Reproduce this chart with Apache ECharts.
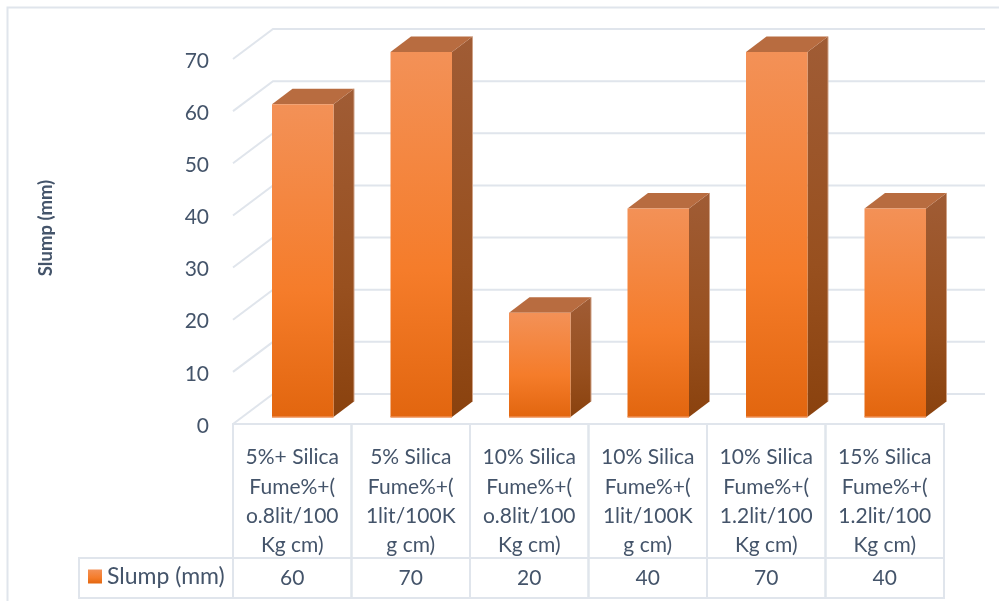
<!DOCTYPE html>
<html>
<head>
<meta charset="utf-8">
<style>html,body{margin:0;padding:0;background:#fff}#c{width:999px;height:601px}</style>
<script src="https://cdn.jsdelivr.net/npm/echarts@6/dist/echarts.min.js"></script>
</head>
<body>
<div id="c"></div>
<script>
const categories = [
  '5%+ Silica\nFume%+(\no.8lit/100\nKg cm)',
  '5% Silica\nFume%+(\n1lit/100K\ng cm)',
  '10% Silica\nFume%+(\no.8lit/100\nKg cm)',
  '10% Silica\nFume%+(\n1lit/100K\ng cm)',
  '10% Silica\nFume%+(\n1.2lit/100\nKg cm)',
  '15% Silica\nFume%+(\n1.2lit/100\nKg cm)'
];
const slump = [60, 70, 20, 40, 70, 40];
const yTicks = [0, 10, 20, 30, 40, 50, 60, 70];
const seriesName = 'Slump (mm)';

const FONT = 'Lato, "Open Sans", sans-serif';
const INK = '#44546A';
const RULE = '#E0E5EC';
// Oblique projection of the 3D box: the back wall sits this far up and right of the front edge.
const WALL_DX = 40, WALL_DY = 30;
const BAR_DX = 20.5, BAR_DY = 15.5;
const BAR_W = 61.5, BAR_SHIFT = 10.5, BAR_LIFT = 7;
const TABLE_BOTTOM = 598, ROW_H = 40, LEGEND_LEFT = 79, WALL_RIGHT = 985;

const frontFill = new echarts.graphic.LinearGradient(0, 0, 0, 1, [
  {offset: 0, color: '#F39157'}, {offset: 0.6, color: '#F57C2A'}, {offset: 1, color: '#E2660F'}
]);
const sideFill = new echarts.graphic.LinearGradient(0, 0, 0, 1, [
  {offset: 0, color: '#A05C35'}, {offset: 0.6, color: '#98501F'}, {offset: 1, color: '#8A420E'}
]);

function renderBar(params, api) {
  const x = api.coord([api.value(0), 0])[0] + BAR_SHIFT - BAR_W / 2;
  const y0 = api.coord([0, 0])[1] - BAR_LIFT;
  const y1 = api.coord([0, api.value(1)])[1] - BAR_LIFT;
  const r = x + BAR_W;
  return {
    type: 'group',
    children: [
      {type: 'polygon', shape: {points: [[r, y1], [r + BAR_DX, y1 - BAR_DY], [r + BAR_DX, y0 - BAR_DY], [r, y0]]},
        style: {fill: sideFill}},
      {type: 'polygon', shape: {points: [[x, y1], [x + BAR_DX, y1 - BAR_DY], [r + BAR_DX, y1 - BAR_DY], [r, y1]]},
        style: {fill: '#B86C40'}},
      {type: 'rect', shape: {x: x, y: y1, width: BAR_W, height: y0 - y1}, style: {fill: frontFill}},
      {type: 'line', shape: {x1: x, y1: y0, x2: r, y2: y0}, style: {stroke: '#EE8F55', lineWidth: 1.5}},
      {type: 'line', shape: {x1: r + BAR_DX, y1: y1 - BAR_DY, x2: r + BAR_DX, y2: y0 - BAR_DY},
        style: {stroke: '#CFA287', lineWidth: 1}}
    ]
  };
}

// Gridlines run across the floor edge of the side wall and then along the back wall.
function renderWall(params, api) {
  const rect = params.coordSys;
  const y = api.coord([0, api.value(0)])[1];
  const left = rect.x;
  return {
    type: 'polyline',
    shape: {points: [[left, y], [left + WALL_DX, y - WALL_DY], [WALL_RIGHT, y - WALL_DY]]},
    style: {fill: 'none', stroke: RULE, lineWidth: 2}
  };
}

// One column of the data table under the chart: the category cell and the value cell.
function renderCell(params, api) {
  const rect = params.coordSys;
  const w = rect.width / categories.length;
  const x = rect.x + api.value(0) * w;
  const top = rect.y + rect.height;
  return {
    type: 'group',
    children: [
      {type: 'rect', shape: {x: x, y: top, width: w, height: TABLE_BOTTOM - top},
        style: {fill: 'none', stroke: RULE, lineWidth: 2}},
      {type: 'line', shape: {x1: x, y1: TABLE_BOTTOM - ROW_H, x2: x + w, y2: TABLE_BOTTOM - ROW_H},
        style: {stroke: RULE, lineWidth: 2}},
      {type: 'text', style: {x: x + w / 2, y: TABLE_BOTTOM - ROW_H / 2, text: String(api.value(1)),
        fill: INK, font: '21px ' + FONT, align: 'center', verticalAlign: 'middle'}}
    ]
  };
}

const chart = echarts.init(document.getElementById('c'), null, {renderer: 'canvas'});
chart.setOption({
  animation: false,
  backgroundColor: '#fff',
  grid: {left: 233, right: 55, top: 59, height: 365, outerBoundsMode: 'none'},
  legend: {
    left: 83, top: 560, itemWidth: 14, itemHeight: 14, itemGap: 0, icon: 'rect',
    data: [{name: seriesName, itemStyle: {color: frontFill}}],
    textStyle: {color: INK, fontFamily: FONT, fontSize: 23, padding: [0, 0, 0, 0]}
  },
  xAxis: {
    type: 'category', data: categories, boundaryGap: true,
    axisLine: {show: false}, axisTick: {show: false}, splitLine: {show: false},
    axisLabel: {interval: 0, margin: 19, color: INK, fontFamily: FONT, fontSize: 21, lineHeight: 29.3,
      align: 'center', verticalAlign: 'top'}
  },
  yAxis: {
    type: 'value', min: 0, max: 70, interval: 10,
    name: seriesName, nameLocation: 'middle', nameGap: 177, nameRotate: 90,
    nameTextStyle: {color: INK, fontFamily: FONT, fontSize: 18.5, fontWeight: 'bold', padding: [0, 0, 0, 27]},
    axisLine: {show: false}, axisTick: {show: false}, splitLine: {show: false},
    axisLabel: {margin: 24, color: INK, fontFamily: FONT, fontSize: 21, formatter: '{t|{value}}',
      rich: {t: {color: INK, fontFamily: FONT, fontSize: 21, padding: [4, 0, 0, 0]}}}
  },
  series: [
    {type: 'custom', name: 'walls', silent: true, z: 1, encode: {x: -1, y: 0},
      data: yTicks.map(v => [v]), renderItem: renderWall},
    {type: 'custom', name: 'table', silent: true, z: 1, encode: {x: -1, y: -1},
      data: slump.map((v, i) => [i, v]), renderItem: renderCell},
    {type: 'custom', name: seriesName, z: 3, encode: {x: 0, y: 1},
      itemStyle: {color: frontFill},
      data: slump.map((v, i) => [i, v]), renderItem: renderBar}
  ],
  graphic: [
    // Outer frame and the legend key cell of the data table.
    {type: 'polyline', silent: true, z: 0, shape: {points: [[7.5, 601], [7.5, 7.5], [999, 7.5]]},
      style: {fill: 'none', stroke: RULE, lineWidth: 2}},
    {type: 'rect', silent: true, z: 0, shape: {x: LEGEND_LEFT, y: TABLE_BOTTOM - ROW_H, width: 233 - LEGEND_LEFT, height: ROW_H},
      style: {fill: 'none', stroke: RULE, lineWidth: 2}}
  ]
});
</script>
</body>
</html>
